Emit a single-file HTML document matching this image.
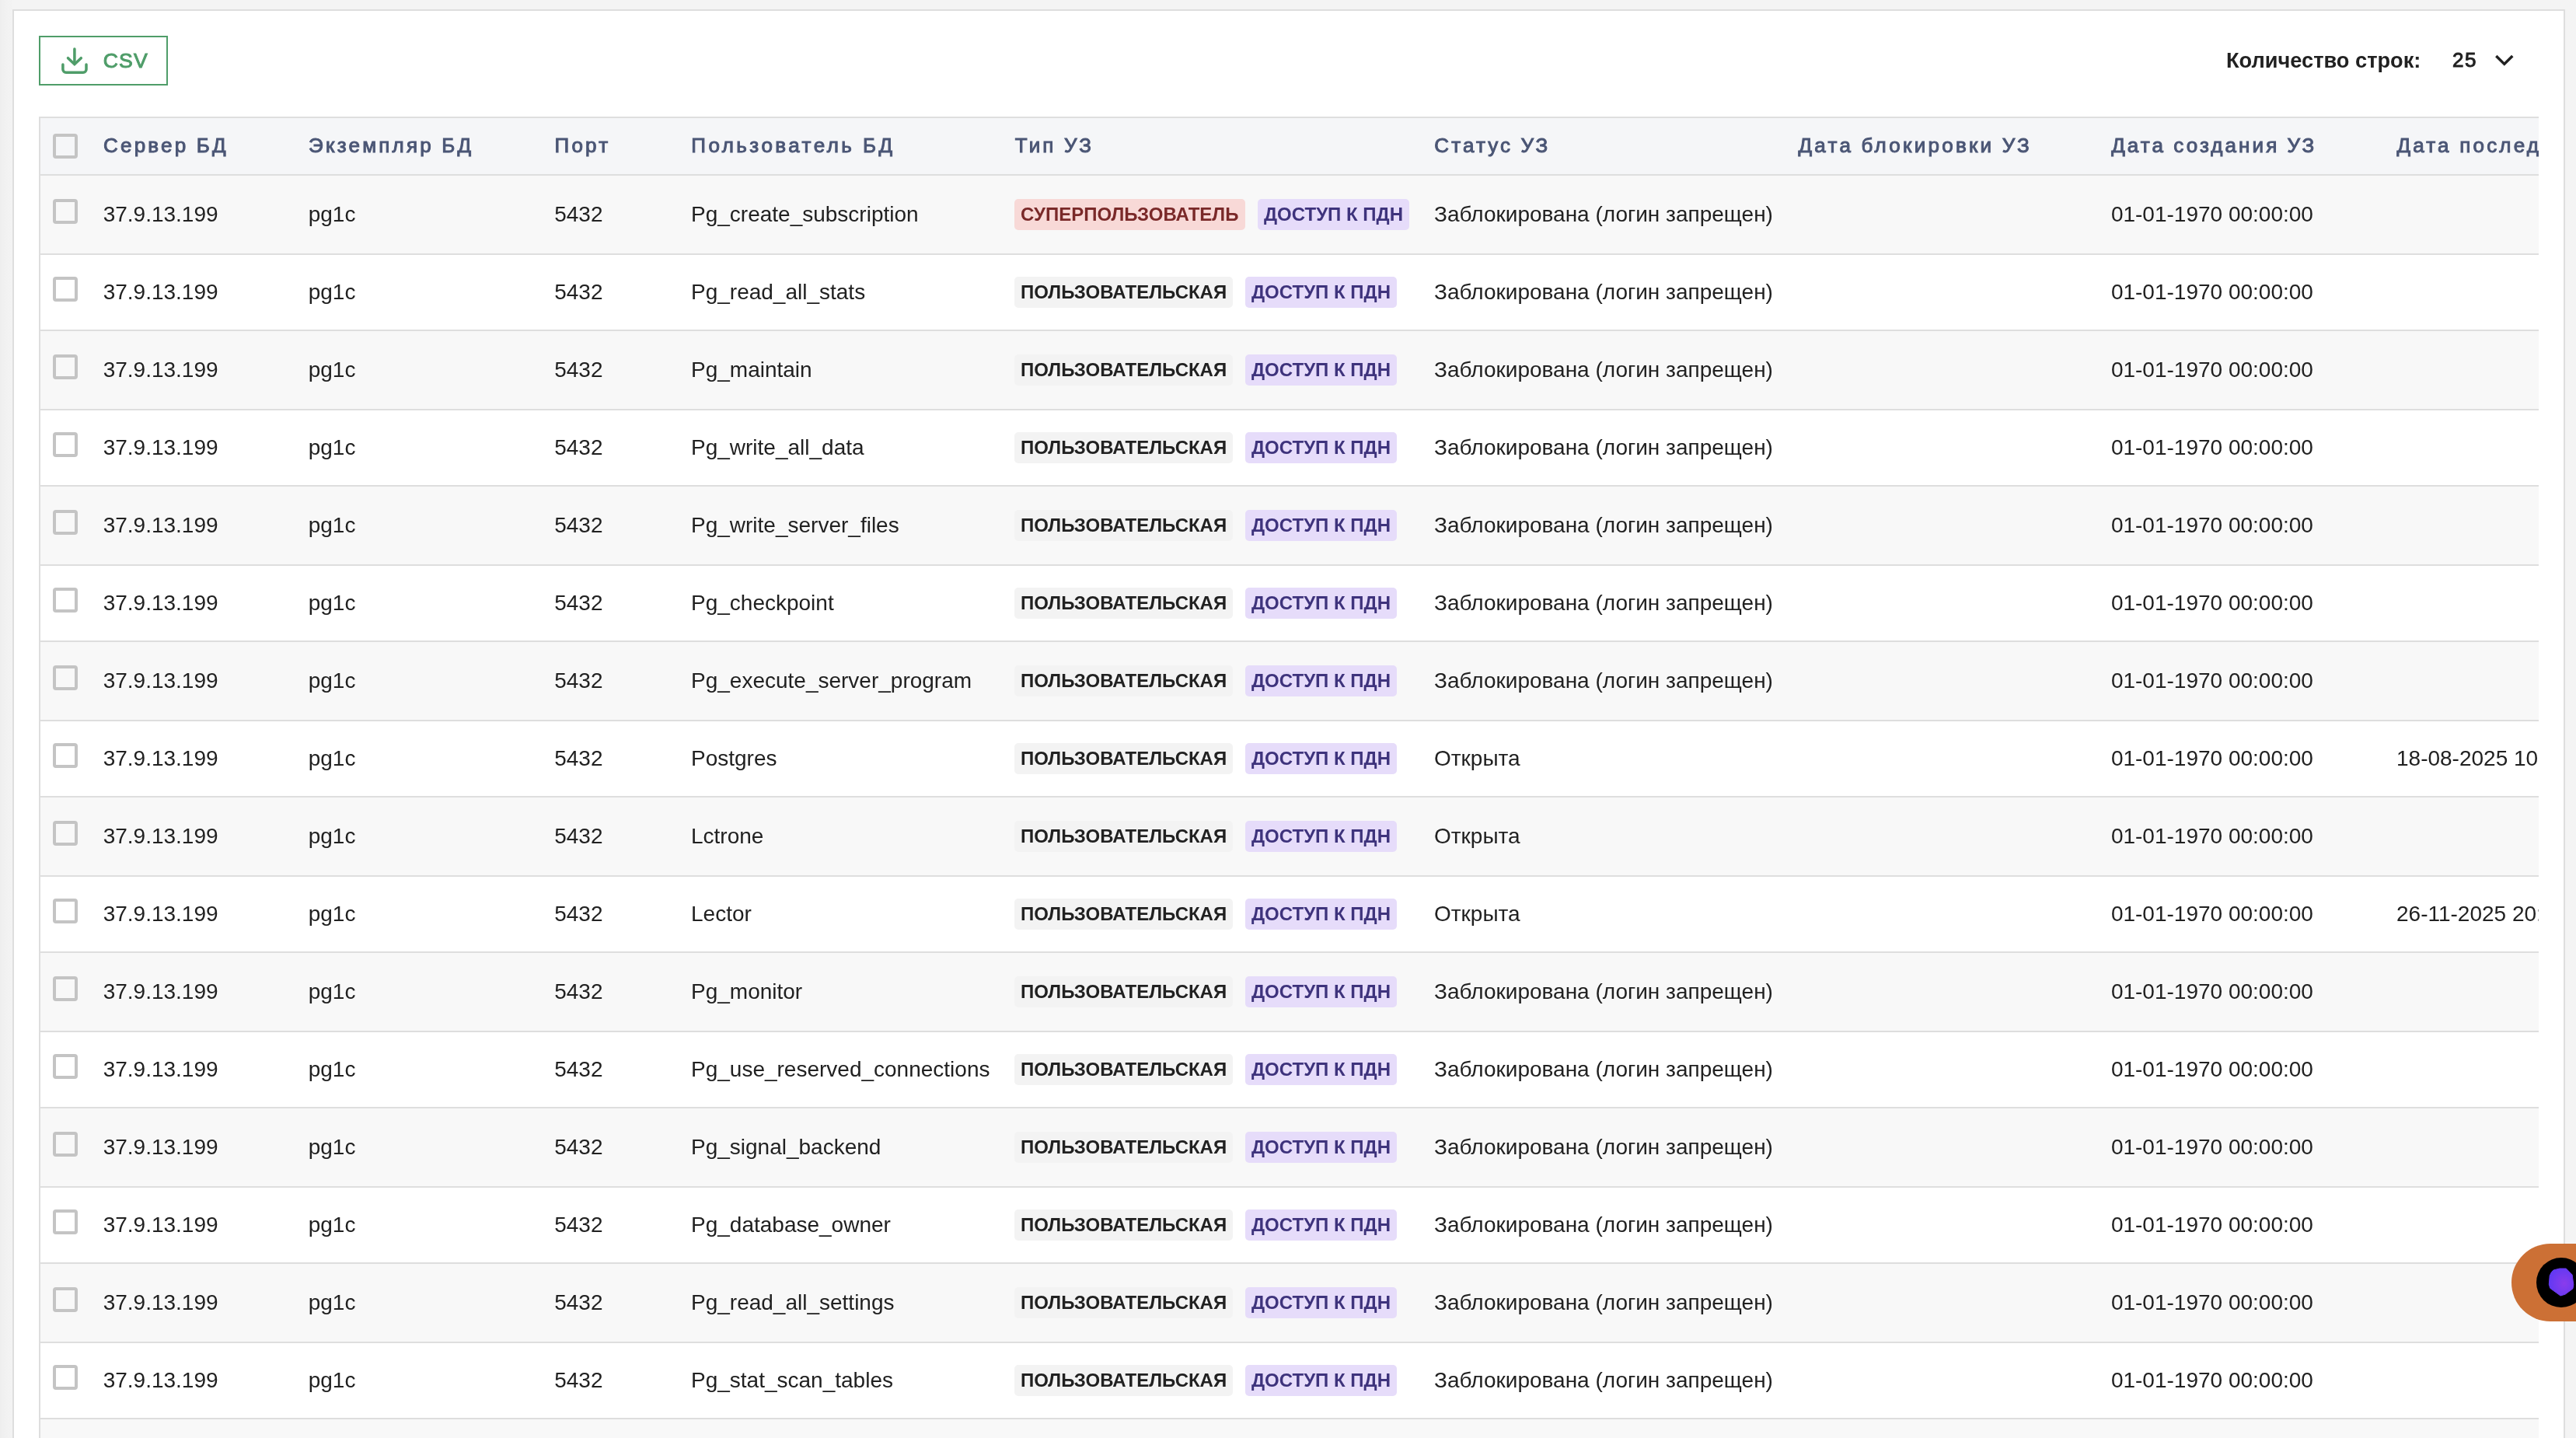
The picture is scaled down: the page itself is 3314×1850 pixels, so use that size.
<!DOCTYPE html><html lang="ru"><head><meta charset="utf-8"><title>table</title><style>
*{box-sizing:border-box;margin:0;padding:0}
html,body{width:3314px;height:1850px;overflow:hidden}
body{background:#f4f4f4;font-family:"Liberation Sans",sans-serif;color:#212121;position:relative}
.lgrad{position:absolute;left:0;top:0;width:16px;height:1850px;background:linear-gradient(90deg,#eeeeee 0,#f0f0f0 4px,#f2f2f2 10px,#f3f3f3 16px)}
.panel{position:absolute;left:16px;top:12px;width:3284px;height:1900px;border:2px solid #dedede;background:#fff}
.csv{will-change:transform;position:absolute;left:50px;top:46px;width:166px;height:64px;border:2px solid #4f9d69;background:#fff;color:#4f9d69;font-size:26.6px;letter-spacing:1.15px;line-height:60px;-webkit-text-stroke:1px #4f9d69}
.csv svg{position:absolute;left:18px;top:2px}
.csv span{position:absolute;left:80.7px;top:0}
.cnt{will-change:transform;position:absolute;top:46px;height:64px;line-height:64px;font-weight:bold;white-space:nowrap;color:#212121}
.tbl{will-change:transform;position:absolute;left:50px;top:150px;width:3216px;height:1700px;overflow:hidden;border-left:2px solid #dedede;border-top:2px solid #dedede}
.r{position:relative;width:3400px;border-bottom:2px solid #dedede;white-space:nowrap;font-size:28px}
.r.h{height:74px;background:#f5f6f8;color:#4b5675;font-size:26px;letter-spacing:3.2px;line-height:70px;-webkit-text-stroke:1px #4b5675}
.r.o{height:102px;background:#f8f8f8;line-height:100px}
.r.e{height:98px;background:#fff;line-height:96px}
.r>span,.r>i,.r>b{position:absolute;top:0}
.r>i{width:32px;height:32px;border:4px solid #c4c4c4;border-radius:4px;background:transparent}
.r.h>i{top:20px}
.r.o>i{top:30px}
.r.e>i{top:28px}
.r b{height:40px;line-height:40px;font-size:24px;padding:0 8px;border-radius:5px;font-weight:bold}
.r.o b{top:30px}
.r.e b{top:28px}
b.s{background:#f8d9d7;color:#7a2929;width:297px}
b.u{background:#f3f3f3;color:#212121}
b.p{background:#e6dcfa;color:#3e337c}
.fab{position:absolute;left:3231px;top:1600px;width:200px;height:100px;border-radius:50px;background:#cc7035}
.fab .k{position:absolute;left:32px;top:18px;width:64px;height:64px;border-radius:50%;background:#000}
.fab svg{position:absolute;left:46px;top:30px}
</style></head><body>
<div class="lgrad"></div><div class="panel"></div>
<div class="csv"><svg width="60" height="56" viewBox="0 0 60 56" fill="none" stroke="#4f9d69" stroke-width="3.5" stroke-linecap="round"><path d="M25.9 12.9V31"/><path d="M17.5 24.7L25.9 32.7L34.3 24.7" stroke-linejoin="miter"/><path d="M10.9 33V39.2A4 4 0 0 0 14.9 43.2H37A4 4 0 0 0 41 39.2V33"/></svg><span>CSV</span></div>
<div class="cnt" style="left:2864.2px;font-size:27.2px">Количество строк:</div>
<div class="cnt" style="left:3155.3px;top:45px;font-size:26px;letter-spacing:1.6px;font-weight:normal;-webkit-text-stroke:1px #212121">25</div>
<svg style="position:absolute;left:3200px;top:60px" width="44" height="36" viewBox="0 0 44 36" fill="none" stroke="#212121" stroke-width="3.5" stroke-linecap="butt" stroke-linejoin="miter"><path d="M11.3 12.1L21.8 22.4L32.3 12.1"/></svg>
<div class="tbl">
<div class="r h"><i style="left:16px"></i><span style="left:81px">Сервер БД</span><span style="left:345px">Экземпляр БД</span><span style="left:661.5px">Порт</span><span style="left:837.3px;letter-spacing:3.44px">Пользователь БД</span><span style="left:1253.7px">Тип УЗ</span><span style="left:1793.3px;letter-spacing:3.12px">Статус УЗ</span><span style="left:2261.5px;letter-spacing:3.26px">Дата блокировки УЗ</span><span style="left:2664.2px;letter-spacing:3.07px">Дата создания УЗ</span><span style="left:3031.4px">Дата последнего входа</span></div>
<div class="r o"><i style="left:16px"></i><span style="left:80.65px">37.9.13.199</span><span style="left:344.7px">pg1c</span><span style="left:661.2px">5432</span><span style="left:837px">Pg_create_subscription</span><b class="s" style="left:1253px">СУПЕРПОЛЬЗОВАТЕЛЬ</b><b class="p" style="left:1566px">ДОСТУП К ПДН</b><span style="left:1793px">Заблокирована (логин запрещен)</span><span style="left:2663.9px">01-01-1970 00:00:00</span></div>
<div class="r e"><i style="left:16px"></i><span style="left:80.65px">37.9.13.199</span><span style="left:344.7px">pg1c</span><span style="left:661.2px">5432</span><span style="left:837px">Pg_read_all_stats</span><b class="u" style="left:1253px">ПОЛЬЗОВАТЕЛЬСКАЯ</b><b class="p" style="left:1550px">ДОСТУП К ПДН</b><span style="left:1793px">Заблокирована (логин запрещен)</span><span style="left:2663.9px">01-01-1970 00:00:00</span></div>
<div class="r o"><i style="left:16px"></i><span style="left:80.65px">37.9.13.199</span><span style="left:344.7px">pg1c</span><span style="left:661.2px">5432</span><span style="left:837px">Pg_maintain</span><b class="u" style="left:1253px">ПОЛЬЗОВАТЕЛЬСКАЯ</b><b class="p" style="left:1550px">ДОСТУП К ПДН</b><span style="left:1793px">Заблокирована (логин запрещен)</span><span style="left:2663.9px">01-01-1970 00:00:00</span></div>
<div class="r e"><i style="left:16px"></i><span style="left:80.65px">37.9.13.199</span><span style="left:344.7px">pg1c</span><span style="left:661.2px">5432</span><span style="left:837px">Pg_write_all_data</span><b class="u" style="left:1253px">ПОЛЬЗОВАТЕЛЬСКАЯ</b><b class="p" style="left:1550px">ДОСТУП К ПДН</b><span style="left:1793px">Заблокирована (логин запрещен)</span><span style="left:2663.9px">01-01-1970 00:00:00</span></div>
<div class="r o"><i style="left:16px"></i><span style="left:80.65px">37.9.13.199</span><span style="left:344.7px">pg1c</span><span style="left:661.2px">5432</span><span style="left:837px">Pg_write_server_files</span><b class="u" style="left:1253px">ПОЛЬЗОВАТЕЛЬСКАЯ</b><b class="p" style="left:1550px">ДОСТУП К ПДН</b><span style="left:1793px">Заблокирована (логин запрещен)</span><span style="left:2663.9px">01-01-1970 00:00:00</span></div>
<div class="r e"><i style="left:16px"></i><span style="left:80.65px">37.9.13.199</span><span style="left:344.7px">pg1c</span><span style="left:661.2px">5432</span><span style="left:837px">Pg_checkpoint</span><b class="u" style="left:1253px">ПОЛЬЗОВАТЕЛЬСКАЯ</b><b class="p" style="left:1550px">ДОСТУП К ПДН</b><span style="left:1793px">Заблокирована (логин запрещен)</span><span style="left:2663.9px">01-01-1970 00:00:00</span></div>
<div class="r o"><i style="left:16px"></i><span style="left:80.65px">37.9.13.199</span><span style="left:344.7px">pg1c</span><span style="left:661.2px">5432</span><span style="left:837px">Pg_execute_server_program</span><b class="u" style="left:1253px">ПОЛЬЗОВАТЕЛЬСКАЯ</b><b class="p" style="left:1550px">ДОСТУП К ПДН</b><span style="left:1793px">Заблокирована (логин запрещен)</span><span style="left:2663.9px">01-01-1970 00:00:00</span></div>
<div class="r e"><i style="left:16px"></i><span style="left:80.65px">37.9.13.199</span><span style="left:344.7px">pg1c</span><span style="left:661.2px">5432</span><span style="left:837px">Postgres</span><b class="u" style="left:1253px">ПОЛЬЗОВАТЕЛЬСКАЯ</b><b class="p" style="left:1550px">ДОСТУП К ПДН</b><span style="left:1793px">Открыта</span><span style="left:2663.9px">01-01-1970 00:00:00</span><span style="left:3031px">18-08-2025 10:00:00</span></div>
<div class="r o"><i style="left:16px"></i><span style="left:80.65px">37.9.13.199</span><span style="left:344.7px">pg1c</span><span style="left:661.2px">5432</span><span style="left:837px">Lctrone</span><b class="u" style="left:1253px">ПОЛЬЗОВАТЕЛЬСКАЯ</b><b class="p" style="left:1550px">ДОСТУП К ПДН</b><span style="left:1793px">Открыта</span><span style="left:2663.9px">01-01-1970 00:00:00</span></div>
<div class="r e"><i style="left:16px"></i><span style="left:80.65px">37.9.13.199</span><span style="left:344.7px">pg1c</span><span style="left:661.2px">5432</span><span style="left:837px">Lector</span><b class="u" style="left:1253px">ПОЛЬЗОВАТЕЛЬСКАЯ</b><b class="p" style="left:1550px">ДОСТУП К ПДН</b><span style="left:1793px">Открыта</span><span style="left:2663.9px">01-01-1970 00:00:00</span><span style="left:3031px">26-11-2025 20:00:00</span></div>
<div class="r o"><i style="left:16px"></i><span style="left:80.65px">37.9.13.199</span><span style="left:344.7px">pg1c</span><span style="left:661.2px">5432</span><span style="left:837px">Pg_monitor</span><b class="u" style="left:1253px">ПОЛЬЗОВАТЕЛЬСКАЯ</b><b class="p" style="left:1550px">ДОСТУП К ПДН</b><span style="left:1793px">Заблокирована (логин запрещен)</span><span style="left:2663.9px">01-01-1970 00:00:00</span></div>
<div class="r e"><i style="left:16px"></i><span style="left:80.65px">37.9.13.199</span><span style="left:344.7px">pg1c</span><span style="left:661.2px">5432</span><span style="left:837px">Pg_use_reserved_connections</span><b class="u" style="left:1253px">ПОЛЬЗОВАТЕЛЬСКАЯ</b><b class="p" style="left:1550px">ДОСТУП К ПДН</b><span style="left:1793px">Заблокирована (логин запрещен)</span><span style="left:2663.9px">01-01-1970 00:00:00</span></div>
<div class="r o"><i style="left:16px"></i><span style="left:80.65px">37.9.13.199</span><span style="left:344.7px">pg1c</span><span style="left:661.2px">5432</span><span style="left:837px">Pg_signal_backend</span><b class="u" style="left:1253px">ПОЛЬЗОВАТЕЛЬСКАЯ</b><b class="p" style="left:1550px">ДОСТУП К ПДН</b><span style="left:1793px">Заблокирована (логин запрещен)</span><span style="left:2663.9px">01-01-1970 00:00:00</span></div>
<div class="r e"><i style="left:16px"></i><span style="left:80.65px">37.9.13.199</span><span style="left:344.7px">pg1c</span><span style="left:661.2px">5432</span><span style="left:837px">Pg_database_owner</span><b class="u" style="left:1253px">ПОЛЬЗОВАТЕЛЬСКАЯ</b><b class="p" style="left:1550px">ДОСТУП К ПДН</b><span style="left:1793px">Заблокирована (логин запрещен)</span><span style="left:2663.9px">01-01-1970 00:00:00</span></div>
<div class="r o"><i style="left:16px"></i><span style="left:80.65px">37.9.13.199</span><span style="left:344.7px">pg1c</span><span style="left:661.2px">5432</span><span style="left:837px">Pg_read_all_settings</span><b class="u" style="left:1253px">ПОЛЬЗОВАТЕЛЬСКАЯ</b><b class="p" style="left:1550px">ДОСТУП К ПДН</b><span style="left:1793px">Заблокирована (логин запрещен)</span><span style="left:2663.9px">01-01-1970 00:00:00</span></div>
<div class="r e"><i style="left:16px"></i><span style="left:80.65px">37.9.13.199</span><span style="left:344.7px">pg1c</span><span style="left:661.2px">5432</span><span style="left:837px">Pg_stat_scan_tables</span><b class="u" style="left:1253px">ПОЛЬЗОВАТЕЛЬСКАЯ</b><b class="p" style="left:1550px">ДОСТУП К ПДН</b><span style="left:1793px">Заблокирована (логин запрещен)</span><span style="left:2663.9px">01-01-1970 00:00:00</span></div>
<div class="r o"><i style="left:16px"></i><span style="left:80.65px">37.9.13.199</span><span style="left:344.7px">pg1c</span><span style="left:661.2px">5432</span><span style="left:837px">Pg_read_server_files</span><b class="u" style="left:1253px">ПОЛЬЗОВАТЕЛЬСКАЯ</b><b class="p" style="left:1550px">ДОСТУП К ПДН</b><span style="left:1793px">Заблокирована (логин запрещен)</span><span style="left:2663.9px">01-01-1970 00:00:00</span></div>
</div>
<div class="fab"><div class="k"></div><svg width="36" height="38" viewBox="0 0 36 38"><defs><radialGradient id="g" cx="0.62" cy="0.55" r="0.75"><stop offset="0" stop-color="#8a3cec"/><stop offset="1" stop-color="#5a38f4"/></radialGradient></defs><path d="M8.2 3.9L16 2L24.3 2L32.1 10L33.8 22.8L32.9 27.9L23.2 35.1L17.1 37L3.7 27.3L2.3 22.3L3.2 11.2L5.4 6.7Z" fill="url(#g)" stroke="url(#g)" stroke-width="1" stroke-linejoin="round"/></svg></div>
</body></html>
